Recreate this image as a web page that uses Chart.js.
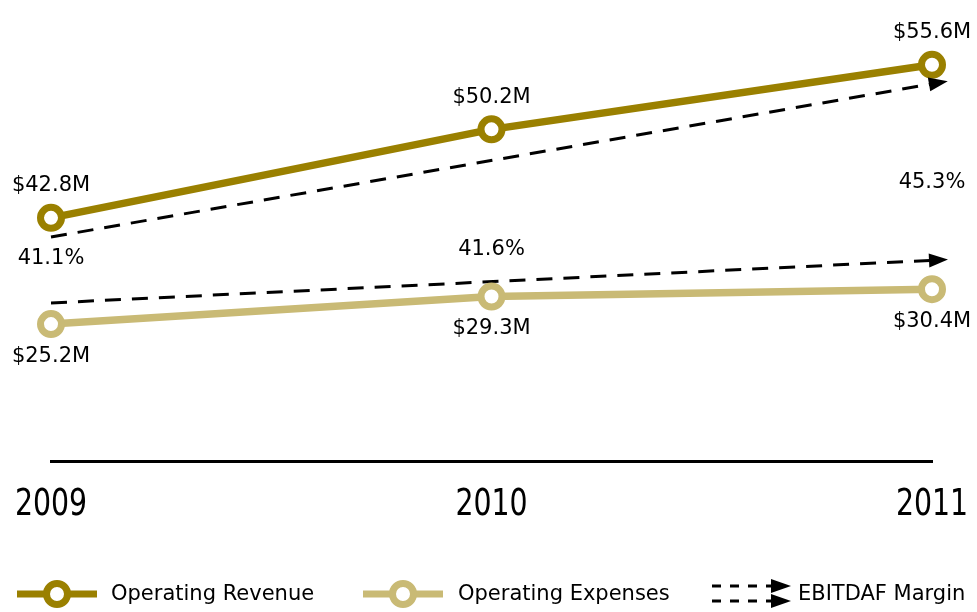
<!DOCTYPE html>
<html>
<head>
<meta charset="utf-8">
<script src="https://cdn.jsdelivr.net/npm/chart.js@4"></script>
<style>
  html, body { margin: 0; padding: 0; background: #fff; overflow: hidden; }
  #wrap { width: 977px; height: 612px; position: relative; }
</style>
</head>
<body>
<div id="wrap"><canvas id="chart" width="977" height="612"></canvas></div>
<script>
// Dados do gráfico
const years = [2009, 2010, 2011];
const revenue = [42.8, 50.2, 55.6];
const expenses = [25.2, 29.3, 30.4];
const margin = [41.1, 41.6, 45.3];
// linhas tracejadas (tendência da margem), só início e fim
const revenueTrend = [41.2, null, 54.0];
const expenseTrend = [28.35, null, 34.7];

const REV_COLOR = '#9a8000';
const EXP_COLOR = '#c9ba75';
const TEXT_FONT = '"DejaVu Sans", sans-serif';

function toPoints(values) {
    return years.map((x, i) => ({ x: x, y: values[i] })).filter(p => p.y !== null);
}

// Rótulos de valores, setas, anos e legenda
const labelsPlugin = {
    id: 'labels',
    afterDatasetsDraw(chart) {
        const ctx = chart.ctx;
        ctx.save();
        ctx.fillStyle = '#000';
        ctx.font = '21px ' + TEXT_FONT;
        ctx.textAlign = 'center';
        ctx.textBaseline = 'middle';

        chart.data.datasets.forEach((ds, i) => {
            const meta = chart.getDatasetMeta(i);
            if (ds.arrow) {
                const pts = meta.data;
                const a = pts[pts.length - 2], b = pts[pts.length - 1];
                const ang = Math.atan2(b.y - a.y, b.x - a.x);
                ctx.save();
                ctx.translate(b.x, b.y);
                ctx.rotate(ang);
                ctx.fillStyle = '#000';
                ctx.beginPath();
                ctx.moveTo(16, 0);
                ctx.lineTo(-3, -7);
                ctx.lineTo(-3, 7);
                ctx.closePath();
                ctx.fill();
                ctx.restore();
            }
            if (ds.labelFmt) {
                meta.data.forEach((pt, j) => {
                    ctx.fillText(ds.labelFmt(ds.data[j].y), pt.x, pt.y + ds.labelOffset);
                });
            }
        });
        ctx.restore();
    },
    afterDraw(chart) {
        const ctx = chart.ctx;
        ctx.save();

        // Anos no eixo x (fonte estreita)
        const xScale = chart.scales.x;
        ctx.fillStyle = '#000';
        ctx.font = '38px "DejaVu Sans Condensed", sans-serif';
        ctx.textAlign = 'center';
        ctx.textBaseline = 'middle';
        years.forEach(yr => {
            ctx.save();
            ctx.translate(xScale.getPixelForValue(yr), 505);
            ctx.scale(0.83, 1);
            ctx.fillText(String(yr), 0, 0);
            ctx.restore();
        });

        // Legenda desenhada à mão
        const y = 594;
        const lineItem = (x0, x1, color) => {
            ctx.strokeStyle = color;
            ctx.lineWidth = 7;
            ctx.beginPath();
            ctx.moveTo(x0, y);
            ctx.lineTo(x1, y);
            ctx.stroke();
            ctx.fillStyle = '#fff';
            ctx.beginPath();
            ctx.arc((x0 + x1) / 2, y, 10.5, 0, Math.PI * 2);
            ctx.fill();
            ctx.stroke();
        };
        lineItem(17, 97, REV_COLOR);
        lineItem(363, 443, EXP_COLOR);

        ctx.strokeStyle = '#000';
        ctx.fillStyle = '#000';
        ctx.lineWidth = 3;
        ctx.setLineDash([9, 9]);
        [586, 601].forEach(yy => {
            ctx.beginPath();
            ctx.moveTo(712, yy);
            ctx.lineTo(774, yy);
            ctx.stroke();
        });
        ctx.setLineDash([]);
        [586, 601].forEach(yy => {
            ctx.beginPath();
            ctx.moveTo(791, yy);
            ctx.lineTo(771, yy - 7);
            ctx.lineTo(771, yy + 7);
            ctx.closePath();
            ctx.fill();
        });

        ctx.fillStyle = '#000';
        ctx.font = '21px ' + TEXT_FONT;
        ctx.textAlign = 'left';
        ctx.textBaseline = 'middle';
        ctx.fillText('Operating Revenue', 111, y + 1);
        ctx.fillText('Operating Expenses', 458, y + 1);
        ctx.fillText('EBITDAF Margin', 798, y + 1);
        ctx.restore();
    }
};

const ctx = document.getElementById('chart').getContext('2d');
new Chart(ctx, {
    type: 'line',
    data: {
        datasets: [
            {
                label: 'Operating Revenue',
                data: toPoints(revenue),
                yAxisID: 'yR',
                borderColor: REV_COLOR,
                borderWidth: 7.5,
                pointRadius: 10.5,
                pointBorderWidth: 7,
                pointBackgroundColor: '#fff',
                pointBorderColor: REV_COLOR,
                labelFmt: v => '$' + v.toFixed(1) + 'M',
                labelOffset: -32
            },
            {
                label: 'Operating Expenses',
                data: toPoints(expenses),
                yAxisID: 'yE',
                borderColor: EXP_COLOR,
                borderWidth: 7.5,
                pointRadius: 10.5,
                pointBorderWidth: 7,
                pointBackgroundColor: '#fff',
                pointBorderColor: EXP_COLOR,
                labelFmt: v => '$' + v.toFixed(1) + 'M',
                labelOffset: 32
            },
            {
                label: 'EBITDAF Margin',
                data: toPoints(margin),
                yAxisID: 'yM',
                showLine: false,
                pointRadius: 0,
                labelFmt: v => v.toFixed(1) + '%',
                labelOffset: 0
            },
            {
                label: 'Revenue trend',
                data: toPoints(revenueTrend),
                yAxisID: 'yR',
                borderColor: '#000',
                borderWidth: 3,
                borderDash: [16, 11],
                pointRadius: 0,
                arrow: true
            },
            {
                label: 'Expense trend',
                data: toPoints(expenseTrend),
                yAxisID: 'yE',
                borderColor: '#000',
                borderWidth: 3,
                borderDash: [16, 11],
                pointRadius: 0,
                arrow: true
            }
        ]
    },
    options: {
        responsive: false,
        animation: false,
        clip: false,
        layout: { autoPadding: false, padding: { left: 51, right: 45, top: 10, bottom: 151 } },
        plugins: {
            legend: { display: false },
            tooltip: { enabled: false }
        },
        scales: {
            x: {
                type: 'linear',
                min: 2009,
                max: 2011,
                grid: { display: false, drawTicks: false },
                border: { display: true, color: '#000', width: 3 },
                ticks: { display: false, stepSize: 1 }
            },
            yR: { display: false, min: 22.47, max: 60.18 },
            yE: { display: false, min: 4.8, max: 72.0 },
            yM: { display: false, min: 29.97, max: 54.79 }
        }
    },
    plugins: [labelsPlugin]
});
</script>
</body>
</html>
